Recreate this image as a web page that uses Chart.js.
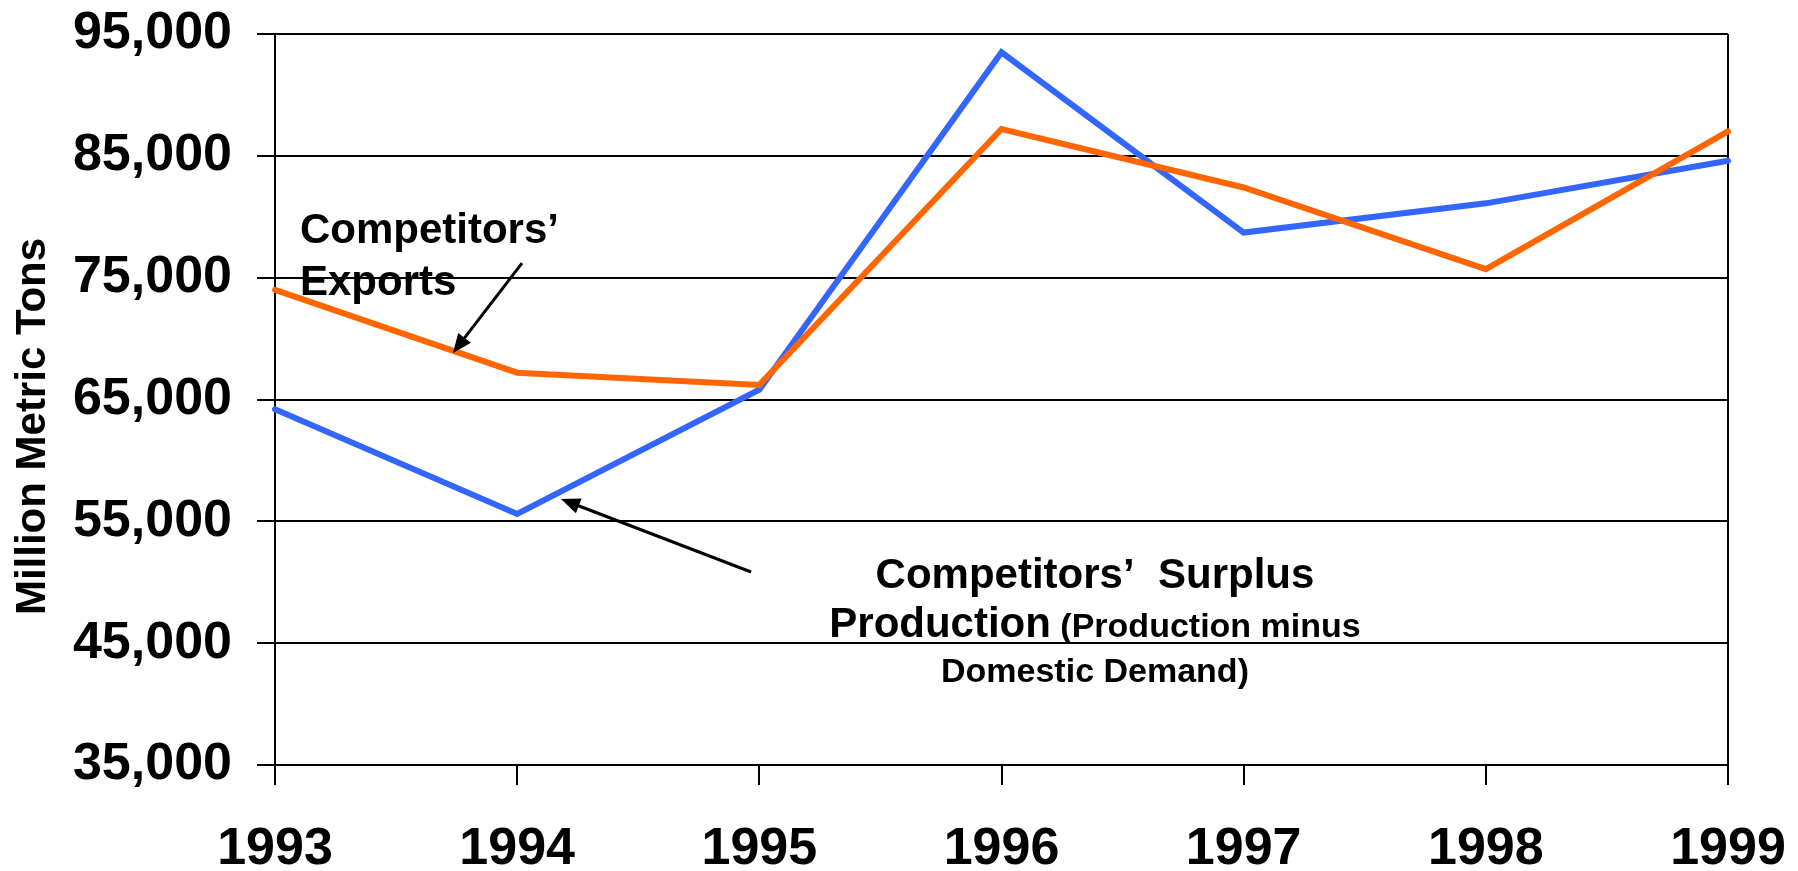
<!DOCTYPE html>
<html lang="en">
<head>
<meta charset="UTF-8">
<title>Competitors' Exports and Surplus Production</title>
<script src="https://cdn.jsdelivr.net/npm/chart.js"></script>
<style>
    html, body {
        margin: 0;
        padding: 0;
        background: #ffffff;
    }
    #wrap {
        width: 1798px;
        height: 871px;
    }
</style>
</head>
<body>
<div id="wrap"><canvas id="tonsChart" width="1798" height="871"></canvas></div>

<script>
// data
const years = ['1993', '1994', '1995', '1996', '1997', '1998', '1999'];
const exportsTons = [74000, 67200, 66200, 87200, 82400, 75700, 87000];
const surplusTons = [64200, 55600, 65800, 93500, 78700, 81100, 84600];
const yTicks = [35000, 45000, 55000, 65000, 75000, 85000, 95000];

const FONT = "'Liberation Sans', Arial, Helvetica, sans-serif";

// annotation text + arrows, placed in data coordinates (x = category index)
const notes = {
    exports: { x: 0.103, lines: [['Competitors\u2019', 77850], ['Exports', 73580]] },
    surplus: { x: 3.386, base: [49530, 45500, 41810] },
    arrows: [
        { from: [1.02, 76200], to: [0.735, 68820] },
        { from: [1.966, 50840], to: [1.181, 56830] }
    ]
};

function drawArrow(ctx, x1, y1, x2, y2) {
    const ang = Math.atan2(y2 - y1, x2 - x1);
    const head = 19, half = 8;
    ctx.beginPath();
    ctx.moveTo(x1, y1);
    ctx.lineTo(x2 - Math.cos(ang) * head * 0.8, y2 - Math.sin(ang) * head * 0.8);
    ctx.stroke();
    ctx.beginPath();
    ctx.moveTo(x2, y2);
    ctx.lineTo(x2 - Math.cos(ang) * head - Math.sin(ang) * half, y2 - Math.sin(ang) * head + Math.cos(ang) * half);
    ctx.lineTo(x2 - Math.cos(ang) * head + Math.sin(ang) * half, y2 - Math.sin(ang) * head - Math.cos(ang) * half);
    ctx.closePath();
    ctx.fill();
}

const notesPlugin = {
    id: 'notes',
    afterDraw(chart) {
        const { ctx, scales: { x, y }, chartArea } = chart;
        ctx.save();
        ctx.fillStyle = '#000';
        ctx.strokeStyle = '#000';

        // y axis title, a bit below centre like the original
        ctx.save();
        ctx.translate(33, (chartArea.top + chartArea.bottom) / 2 + 27);
        ctx.rotate(-Math.PI / 2);
        ctx.font = 'bold 42px ' + FONT;
        ctx.textAlign = 'center';
        ctx.textBaseline = 'middle';
        ctx.fillText('Million Metric Tons', 0, 0);
        ctx.restore();

        // Competitors' Exports
        ctx.font = 'bold 42px ' + FONT;
        ctx.textAlign = 'left';
        ctx.textBaseline = 'alphabetic';
        notes.exports.lines.forEach(([txt, v]) => {
            ctx.fillText(txt, x.getPixelForValue(notes.exports.x), y.getPixelForValue(v));
        });

        // Competitors' Surplus Production (...)
        const cx = x.getPixelForValue(notes.surplus.x);
        const b = notes.surplus.base.map(v => y.getPixelForValue(v));
        ctx.textAlign = 'center';
        ctx.font = 'bold 42px ' + FONT;
        ctx.fillText('Competitors\u2019  Surplus', cx, b[0]);

        const big = 'Production', small = ' (Production minus';
        ctx.font = 'bold 42px ' + FONT;
        const wBig = ctx.measureText(big).width;
        ctx.font = 'bold 34px ' + FONT;
        const wSmall = ctx.measureText(small).width;
        const start = cx - (wBig + wSmall) / 2;
        ctx.textAlign = 'left';
        ctx.font = 'bold 42px ' + FONT;
        ctx.fillText(big, start, b[1]);
        ctx.font = 'bold 34px ' + FONT;
        ctx.fillText(small, start + wBig, b[1]);

        ctx.textAlign = 'center';
        ctx.fillText('Domestic Demand)', cx, b[2]);

        // arrows
        ctx.lineWidth = 3;
        notes.arrows.forEach(a => {
            drawArrow(ctx,
                x.getPixelForValue(a.from[0]), y.getPixelForValue(a.from[1]),
                x.getPixelForValue(a.to[0]), y.getPixelForValue(a.to[1]));
        });
        ctx.restore();
    }
};

const ctx = document.getElementById('tonsChart').getContext('2d');
const tonsChart = new Chart(ctx, {
    type: 'line',
    data: {
        labels: years,
        datasets: [
            {
                label: 'Competitors\u2019 Exports',
                data: exportsTons,
                borderColor: '#ff6600',
                backgroundColor: '#ff6600',
                borderWidth: 6,
                pointRadius: 0,
                tension: 0,
                borderCapStyle: 'round',
                borderJoinStyle: 'miter'
            },
            {
                label: 'Competitors\u2019 Surplus Production',
                data: surplusTons,
                borderColor: '#3366ff',
                backgroundColor: '#3366ff',
                borderWidth: 6,
                pointRadius: 0,
                tension: 0,
                borderCapStyle: 'round',
                borderJoinStyle: 'miter'
            }
        ]
    },
    options: {
        responsive: false,
        devicePixelRatio: 1,
        animation: false,
        layout: { padding: { top: 34, right: 70, bottom: 0, left: 0 } },
        plugins: {
            legend: { display: false },
            tooltip: { enabled: false }
        },
        scales: {
            x: {
                afterFit: s => { s.height = 106; s.paddingLeft = 0; s.paddingRight = 0; },
                grid: {
                    color: c => (c.index === 6 ? '#000' : 'rgba(0,0,0,0)'),
                    tickColor: '#000',
                    lineWidth: 2,
                    tickLength: 20
                },
                border: { display: true, color: '#000', width: 2 },
                ticks: {
                    color: '#000',
                    font: { family: FONT, size: 52, weight: 'bold' },
                    padding: 33,
                    maxRotation: 0,
                    autoSkip: false
                }
            },
            y: {
                min: 35000,
                max: 95000,
                afterFit: s => { s.width = 275; s.paddingTop = 0; s.paddingBottom = 0; },
                afterBuildTicks: s => { s.ticks = yTicks.map(v => ({ value: v })); },
                grid: {
                    color: '#000',
                    tickColor: '#000',
                    lineWidth: 2,
                    tickLength: 18
                },
                border: { display: true, color: '#000', width: 2 },
                ticks: {
                    color: '#000',
                    font: { family: FONT, size: 52, weight: 'bold' },
                    padding: 25,
                    callback: v => v.toLocaleString('en-US')
                }
            }
        }
    },
    plugins: [notesPlugin]
});
</script>
</body>
</html>
